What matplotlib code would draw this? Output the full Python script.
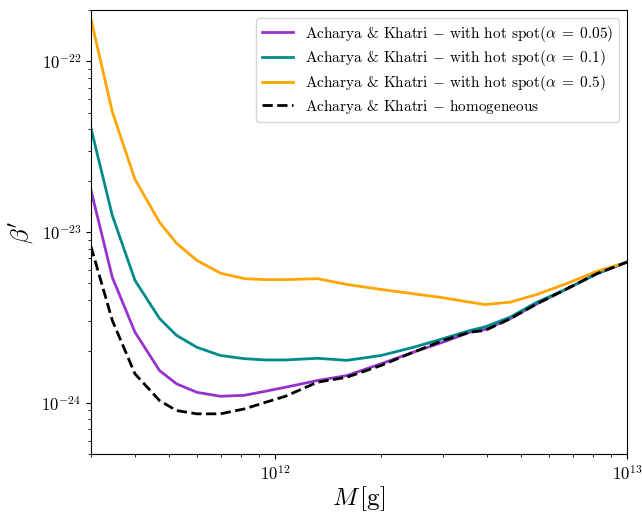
import matplotlib
matplotlib.use("Agg")
import matplotlib.pyplot as plt

plt.rcParams['mathtext.fontset'] = 'cm'
plt.rcParams['font.family'] = ['serif']
plt.rcParams['font.serif'] = ['cmr10', 'DejaVu Serif']
plt.rcParams['axes.formatter.use_mathtext'] = True

# black hole mass [g]
M = [3.0e11, 3.45e11, 4.0e11, 4.7e11, 5.25e11, 6.0e11, 7.0e11, 8.2e11, 9.4e11,
     1.07e12, 1.32e12, 1.6e12, 2.0e12, 2.47e12, 3.0e12, 3.58e12, 3.95e12,
     4.65e12, 5.55e12, 6.75e12, 8.2e12, 1.0e13]

beta_a005 = [1.76e-23, 5.42e-24, 2.59e-24, 1.54e-24, 1.29e-24, 1.15e-24, 1.09e-24,
             1.105e-24, 1.167e-24, 1.231e-24, 1.348e-24, 1.442e-24, 1.689e-24,
             1.976e-24, 2.262e-24, 2.59e-24, 2.685e-24, 3.10e-24, 3.80e-24,
             4.65e-24, 5.70e-24, 6.67e-24]

beta_a01 = [4.06e-23, 1.25e-23, 5.21e-24, 3.11e-24, 2.48e-24, 2.11e-24, 1.89e-24,
            1.81e-24, 1.78e-24, 1.78e-24, 1.82e-24, 1.77e-24, 1.89e-24, 2.11e-24,
            2.37e-24, 2.65e-24, 2.78e-24, 3.17e-24, 3.88e-24, 4.65e-24, 5.70e-24,
            6.67e-24]

beta_a05 = [1.77e-22, 5.06e-23, 2.04e-23, 1.14e-23, 8.59e-24, 6.82e-24, 5.74e-24,
            5.33e-24, 5.26e-24, 5.26e-24, 5.33e-24, 4.93e-24, 4.61e-24, 4.35e-24,
            4.12e-24, 3.88e-24, 3.76e-24, 3.88e-24, 4.31e-24, 5.00e-24, 5.88e-24,
            6.67e-24]

beta_hom = [8.24e-24, 3.03e-24, 1.476e-24, 1.028e-24, 8.99e-25, 8.60e-25, 8.60e-25,
            9.20e-25, 1.005e-24, 1.09e-24, 1.318e-24, 1.41e-24, 1.651e-24,
            1.976e-24, 2.314e-24, 2.59e-24, 2.65e-24, 3.10e-24, 3.80e-24,
            4.65e-24, 5.70e-24, 6.67e-24]

fig = plt.figure(figsize=(6.42, 5.15), dpi=100)
ax = fig.add_axes([0.1417, 0.1184, 0.835, 0.862])

ax.plot(M, beta_a005, color='darkorchid', lw=2,
        label=r'Acharya & Khatri $-$ with hot spot$(\alpha\;=\;0.05)$')
ax.plot(M, beta_a01, color='darkcyan', lw=2,
        label=r'Acharya & Khatri $-$ with hot spot$(\alpha\;=\;0.1)$')
ax.plot(M, beta_a05, color='orange', lw=2,
        label=r'Acharya & Khatri $-$ with hot spot$(\alpha\;=\;0.5)$')
ax.plot(M, beta_hom, color='black', lw=2, ls='--',
        label=r'Acharya & Khatri $-$ homogeneous')

ax.set_xscale('log')
ax.set_yscale('log')
ax.set_xlim(3e11, 1e13)
ax.set_ylim(5e-25, 2e-22)
ax.set_xlabel(r'$M\,[\mathrm{g}]$', fontsize=18, labelpad=1)
ax.set_ylabel(r"$\beta'$", fontsize=18)
ax.tick_params(labelsize=12)
ax.legend(loc='upper right', fontsize=11, labelspacing=0.3)

fig.savefig('out.png', dpi=100)
